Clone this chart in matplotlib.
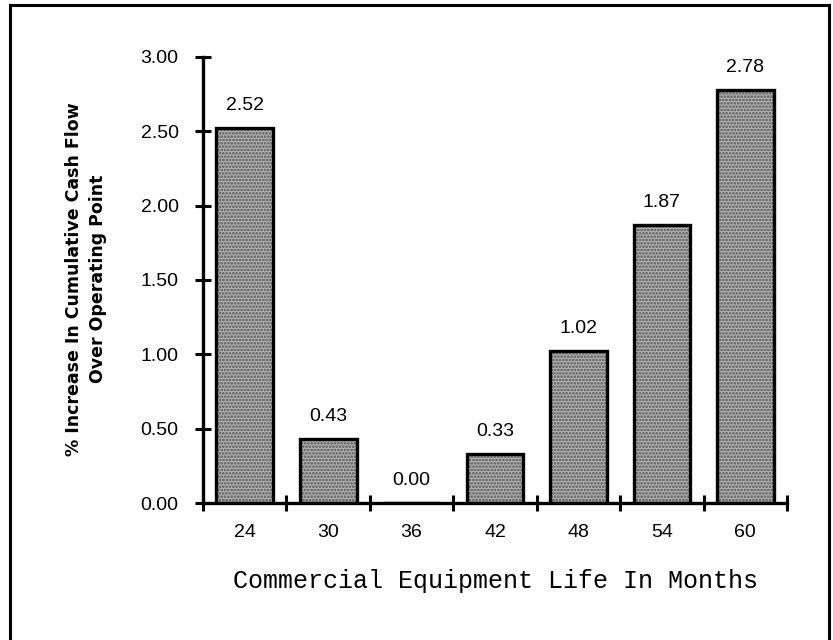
import matplotlib.pyplot as plt
from matplotlib.patches import Rectangle
from matplotlib.ticker import FixedLocator, NullFormatter

# Data
months = ['24', '30', '36', '42', '48', '54', '60']
increase = [2.52, 0.43, 0.00, 0.33, 1.02, 1.87, 2.78]
y_ticks = [0.0, 0.5, 1.0, 1.5, 2.0, 2.5, 3.0]

plt.rcParams['hatch.linewidth'] = 1.3

fig = plt.figure(figsize=(8.33, 6.4), dpi=100)
ax = fig.add_axes([0.2437, 0.214, 0.7011, 0.697])

# Frame around the whole figure
fig.patches.append(Rectangle((0.012, -0.05), 0.983, 1.042, transform=fig.transFigure,
                             fill=False, edgecolor='black', linewidth=2.2))

x = list(range(len(months)))
# stippled fill, then the black outline on top
ax.bar(x, increase, width=0.68, color='#b4b4b4', edgecolor='#505050', hatch='.....',
       linewidth=0, zorder=2)
ax.bar(x, increase, width=0.68, fill=False, edgecolor='black', linewidth=2.4, zorder=3)

for xi, v in zip(x, increase):
    ax.annotate(f'{v:.2f}', (xi, v), xytext=(0, 10), textcoords='offset points',
                ha='center', va='bottom', fontsize=14, family='Liberation Sans')

ax.set_xlim(-0.5, len(months) - 0.5)
ax.set_ylim(0, 3.0)

# x: ticks on the category boundaries, labels in the middle
ax.xaxis.set_major_locator(FixedLocator([i - 0.5 for i in range(len(months) + 1)]))
ax.xaxis.set_major_formatter(NullFormatter())
ax.xaxis.set_minor_locator(FixedLocator(x))
ax.set_xticklabels(months, minor=True, fontsize=14, family='Liberation Sans')
ax.tick_params(axis='x', which='major', direction='inout', length=12, width=2.2)
ax.tick_params(axis='x', which='minor', length=0, pad=15)

ax.set_yticks(y_ticks)
ax.set_yticklabels([f'{t:.2f}' for t in y_ticks], fontsize=14, family='Liberation Sans')
ax.tick_params(axis='y', direction='inout', length=11, width=2.2, pad=12)

for s in ['top', 'right']:
    ax.spines[s].set_visible(False)
for s in ['left', 'bottom']:
    ax.spines[s].set_linewidth(2.4)
ax.spines['left'].set_bounds(0, 3.0)

fig.text(86 / 833, 1 - 279 / 640, '% Increase In Cumulative Cash Flow\nOver Operating Point',
         rotation=90, ha='center', va='center', multialignment='center',
         fontsize=12.5, fontweight='bold', family='DejaVu Sans', linespacing=1.45)
ax.set_xlabel('Commercial Equipment Life In Months', fontsize=18,
              family='Liberation Mono', labelpad=20)

fig.savefig('out.png', dpi=100)
